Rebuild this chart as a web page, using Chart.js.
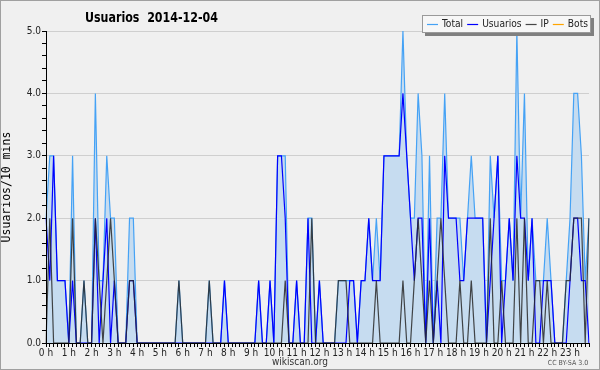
<!DOCTYPE html>
<html>
<head>
<meta charset="utf-8">
<script src="https://cdn.jsdelivr.net/npm/chart.js@4.4.1/dist/chart.umd.min.js"></script>
<style>
  html, body { margin: 0; padding: 0; background: #f0f0f0; }
  #wrap { width: 600px; height: 370px; }
</style>
</head>
<body>
<div id="wrap"><canvas id="usersChart" width="600" height="370"></canvas></div>
<script>
// one value every 10 minutes, 6 per hour, 144 per day
const hourLabels = ['0 h', '1 h', '2 h', '3 h', '4 h', '5 h', '6 h', '7 h', '8 h', '9 h', '10 h', '11 h',
    '12 h', '13 h', '14 h', '15 h', '16 h', '17 h', '18 h', '19 h', '20 h', '21 h', '22 h', '23 h'];
const yTickValues = [0, 1, 2, 3, 4, 5];

const total = [
    2, 3, 3, 1, 1, 1, 0, 3, 0, 0, 1, 0,
    0, 4, 1, 1, 3, 2, 2, 0, 0, 0, 2, 2,
    0, 0, 0, 0, 0, 0, 0, 0, 0, 0, 0, 1,
    0, 0, 0, 0, 0, 0, 0, 1, 0, 0, 0, 1,
    0, 0, 0, 0, 0, 0, 0, 0, 1, 0, 0, 1,
    0, 3, 3, 3, 0, 0, 1, 0, 0, 2, 2, 0,
    1, 0, 0, 0, 0, 1, 1, 1, 1, 1, 0, 1,
    1, 2, 1, 2, 1, 3, 3, 3, 3, 3, 5, 3,
    2, 2, 4, 3, 0, 3, 0, 2, 2, 4, 2, 2,
    2, 2, 1, 2, 3, 2, 2, 2, 0, 3, 2, 3,
    1, 1, 2, 1, 5, 2, 4, 1, 2, 1, 1, 1,
    2, 1, 0, 0, 0, 1, 2, 4, 4, 3, 1, 2
];

const usuarios = [
    2, 1, 3, 1, 1, 1, 0, 1, 0, 0, 0, 0,
    0, 2, 0, 1, 2, 0, 1, 0, 0, 0, 1, 1,
    0, 0, 0, 0, 0, 0, 0, 0, 0, 0, 0, 0,
    0, 0, 0, 0, 0, 0, 0, 0, 0, 0, 0, 1,
    0, 0, 0, 0, 0, 0, 0, 0, 1, 0, 0, 1,
    0, 3, 3, 2, 0, 0, 1, 0, 0, 2, 0, 0,
    1, 0, 0, 0, 0, 0, 0, 0, 1, 1, 0, 1,
    1, 2, 1, 1, 1, 3, 3, 3, 3, 3, 4, 3,
    2, 1, 2, 2, 0, 2, 0, 1, 0, 3, 2, 2,
    2, 1, 1, 2, 2, 2, 2, 2, 0, 1, 2, 3,
    0, 1, 2, 1, 3, 2, 2, 1, 2, 0, 0, 1,
    1, 1, 0, 0, 0, 0, 1, 2, 2, 1, 1, 0
];

const ip = [
    0, 2, 0, 0, 0, 0, 0, 2, 0, 0, 1, 0,
    0, 2, 1, 0, 1, 2, 1, 0, 0, 0, 1, 1,
    0, 0, 0, 0, 0, 0, 0, 0, 0, 0, 0, 1,
    0, 0, 0, 0, 0, 0, 0, 1, 0, 0, 0, 0,
    0, 0, 0, 0, 0, 0, 0, 0, 0, 0, 0, 0,
    0, 0, 0, 1, 0, 0, 0, 0, 0, 0, 2, 0,
    0, 0, 0, 0, 0, 1, 1, 1, 0, 0, 0, 0,
    0, 0, 0, 1, 0, 0, 0, 0, 0, 0, 1, 0,
    0, 1, 2, 1, 0, 1, 0, 1, 2, 1, 0, 0,
    0, 1, 0, 0, 1, 0, 0, 0, 0, 2, 0, 0,
    1, 0, 0, 0, 2, 0, 2, 0, 0, 1, 1, 0,
    1, 0, 0, 0, 0, 1, 1, 2, 2, 2, 0, 2
];

// no bot edits this day
const bots = new Array(144).fill(0);

const slots = [];
for (let h = 0; h < 24; h++) {
    for (let m = 0; m < 60; m += 10) {
        slots.push(h + ':' + String(m).padStart(2, '0'));
    }
}

function fontExists(name) {
    const c = document.createElement('canvas').getContext('2d');
    const s = 'Usuarios 0123456789 h';
    c.font = '20px monospace';
    const a = c.measureText(s).width;
    c.font = '20px "' + name + '", monospace';
    return c.measureText(s).width !== a;
}

const condensed = fontExists('DejaVu Sans Condensed') ? '"DejaVu Sans Condensed"'
    : (fontExists('Liberation Sans Narrow') ? '"Liberation Sans Narrow"' : null);
const FONT = (condensed ? condensed + ', ' : '') + '"DejaVu Sans", sans-serif';
const TICK_SIZE = condensed ? 10 : 9;
const MONO = '"DejaVu Sans Mono", monospace';

function isInt(v) {
    return yTickValues.some(t => Math.abs(t - v) < 1e-6);
}

// text squeezed to the width it has in the picture
function squeezed(ctx, text, x, y, width) {
    const w = ctx.measureText(text).width;
    ctx.fillText(text, x, y, Math.min(w, width));
}

// background, frame, title, footer and legend box
const decorations = {
    id: 'decorations',
    beforeDraw(chart) {
        const ctx = chart.ctx;
        ctx.save();
        ctx.fillStyle = '#f0f0f0';
        ctx.fillRect(0, 0, chart.width, chart.height);
        ctx.restore();
    },
    afterDraw(chart) {
        const ctx = chart.ctx;
        ctx.save();

        ctx.strokeStyle = '#a0a0a0';
        ctx.lineWidth = 1;
        ctx.strokeRect(0.5, 0.5, chart.width - 1, chart.height - 1);

        ctx.fillStyle = '#000';
        ctx.font = 'bold 14px ' + FONT;
        ctx.textBaseline = 'alphabetic';
        ctx.textAlign = 'left';
        squeezed(ctx, 'Usuarios  2014-12-04', 85, 22, 133);

        ctx.font = '10px ' + FONT;
        ctx.fillStyle = '#333';
        ctx.textAlign = 'center';
        ctx.fillText('wikiscan.org', 300, 365);
        ctx.font = '7px ' + FONT;
        ctx.fillStyle = '#555';
        ctx.fillText('CC BY-SA 3.0', 568, 365);

        // legend
        const bx = 422, by = 15, bw = 169, bh = 18;
        ctx.fillStyle = '#808080';
        ctx.fillRect(bx + 3, by + 3, bw, bh);
        ctx.fillStyle = '#f7f7f7';
        ctx.fillRect(bx, by, bw, bh);
        ctx.strokeStyle = '#9a9a9a';
        ctx.strokeRect(bx + 0.5, by + 0.5, bw - 1, bh - 1);

        ctx.font = '10.5px ' + FONT;
        ctx.textAlign = 'left';
        ctx.textBaseline = 'middle';
        let x = bx + 5;
        const my = by + bh / 2 + 0.5;
        const room = bw - 5 - 3;
        const natural = chart.data.datasets.reduce((s, ds) => s + 15 + ctx.measureText(ds.label).width + 4, 0) - 4;
        const k = Math.min(1, (room - 15 * 4 - 4 * 3) / (natural - 15 * 4 - 4 * 3));
        chart.data.datasets.forEach(ds => {
            ctx.strokeStyle = ds.borderColor;
            ctx.lineWidth = 1.2;
            ctx.beginPath();
            ctx.moveTo(x, my);
            ctx.lineTo(x + 11, my);
            ctx.stroke();
            x += 15;
            ctx.fillStyle = '#222';
            const w = ctx.measureText(ds.label).width * k;
            ctx.fillText(ds.label, x, my, w);
            x += w + 4;
        });

        ctx.restore();
    }
};

const ctx = document.getElementById('usersChart').getContext('2d');

new Chart(ctx, {
    type: 'line',
    data: {
        labels: slots,
        datasets: [
            {
                label: 'Total',
                data: total,
                borderColor: '#45a2f5',
                backgroundColor: '#c6dcf0',
                fill: 'origin',
                order: 4
            },
            {
                label: 'Usuarios',
                data: usuarios,
                borderColor: '#0000ff',
                fill: false,
                order: 3
            },
            {
                label: 'IP',
                data: ip,
                borderColor: 'rgba(40,40,40,0.85)',
                fill: false,
                order: 2
            },
            {
                label: 'Bots',
                data: bots,
                borderColor: '#ffa500',
                fill: false,
                order: 5
            }
        ]
    },
    options: {
        responsive: false,
        animation: false,
        devicePixelRatio: 1,
        layout: {
            padding: { top: 31, right: 11, left: 0, bottom: 0 }
        },
        elements: {
            line: { borderWidth: 1.2, tension: 0 },
            point: { radius: 0 }
        },
        plugins: {
            legend: { display: false },
            title: { display: false },
            tooltip: { enabled: false }
        },
        scales: {
            x: {
                type: 'category',
                offset: false,
                grid: {
                    drawOnChartArea: false,
                    tickLength: 4,
                    tickColor: '#000'
                },
                border: { color: '#000', z: 1 },
                ticks: {
                    autoSkip: false,
                    maxRotation: 0,
                    minRotation: 0,
                    padding: 0,
                    color: '#222',
                    font: { family: FONT, size: TICK_SIZE },
                    callback: (value, index) => index % 6 === 0 ? hourLabels[index / 6] : ''
                },
                afterFit: scale => { scale.height = 27; }
            },
            y: {
                min: 0,
                max: 5,
                grid: {
                    color: c => isInt(c.tick.value) ? '#cfcfcf' : 'transparent',
                    tickColor: '#000',
                    tickLength: 4
                },
                border: { color: '#000', z: 1 },
                ticks: {
                    stepSize: 0.2,
                    autoSkip: false,
                    padding: 1,
                    color: '#222',
                    font: { family: FONT, size: TICK_SIZE },
                    callback: v => isInt(v) ? v.toFixed(1) : ''
                },
                title: {
                    display: true,
                    text: 'Usuarios/10 mins',
                    color: '#000',
                    font: { family: MONO, size: 11.5 },
                    padding: { top: 0, bottom: 1 }
                },
                afterFit: scale => { scale.width = 46; }
            }
        }
    },
    plugins: [decorations]
});
</script>
</body>
</html>
